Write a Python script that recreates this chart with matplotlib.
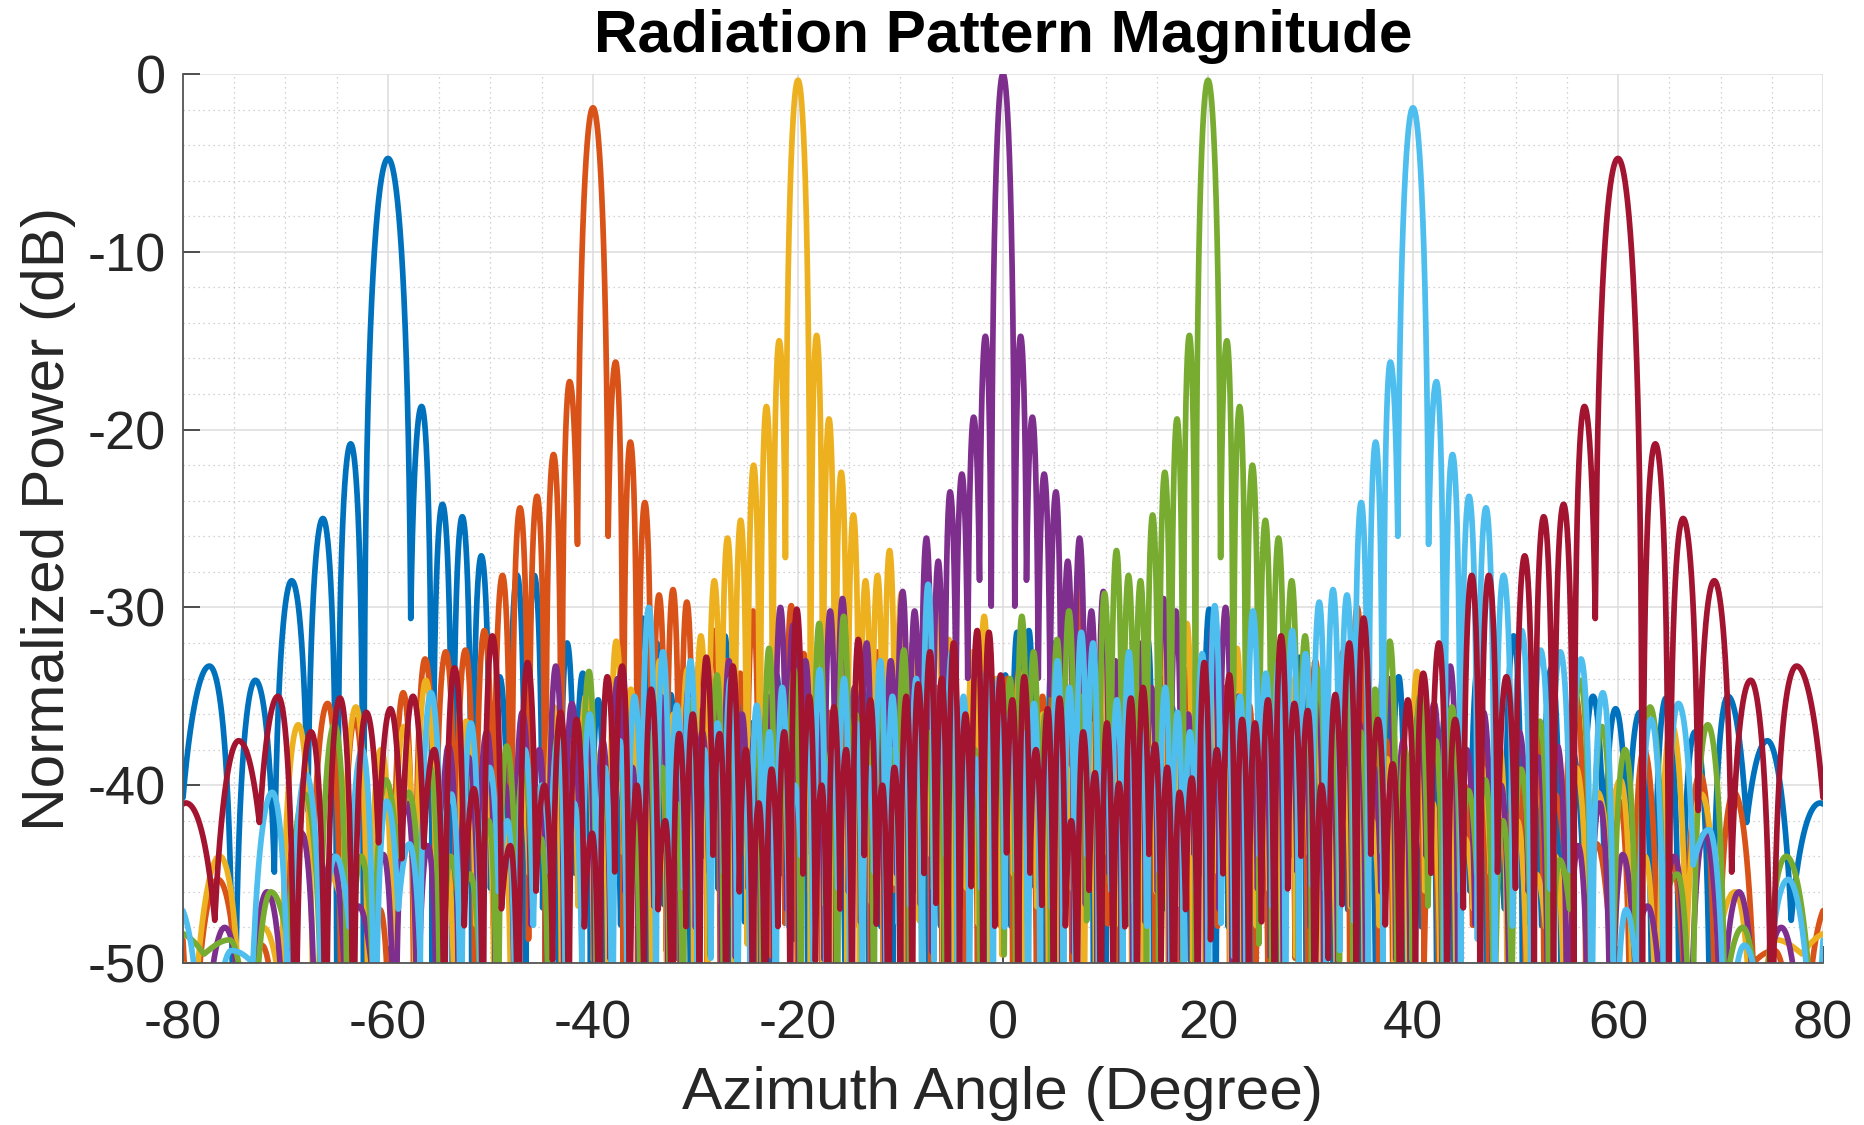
import numpy as np
import matplotlib
matplotlib.use("Agg")
import matplotlib.pyplot as plt
from matplotlib.ticker import MultipleLocator

# ---------------- data ----------------
X_TICKS = [-80, -60, -40, -20, 0, 20, 40, 60, 80]
Y_TICKS = [-50, -40, -30, -20, -10, 0]
DU = 0.02  # lobe spacing in sin(theta) space

# main-lobe peak level (dB) for the beams steered to 0, 20, 40, 60 degrees
STEER_DEG = [0, 20, 40, 60]
MAIN_DB = [0.0, -0.35, -1.9, -4.75]

# --- beam at 0 deg (symmetric) ---
PURPLE_PEAKS = [-14.75, -19.3, -22.5, -23.5, -27.4, -26.1, -30.2, -29.1, -33.0, -36.0,
                -32.0, -34.5, -29.5, -30.2, -36.0, -33.0, -31.0, -30.0, -35.0, -37.0,
                -36.0, -33.0, -35.5, -37.0, -34.5, -38.0, -35.0, -36.5, -39.0, -34.0,
                -37.5, -36.0, -35.4, -33.3, -38.0, -35.9, -40.0, -37.0, -38.4, -37.8,
                -43.4, -41.0, -43.9, -46.8, -44.0, -42.7, -46.0, -48.0, -52.0]
PURPLE_NULLS = [-30.4, -28.7, -34.0, -35.0, -60, -50, -47, -60, -45, -52,
                -65, -48, -46, -60, -50, -44, -65, -47, -52, -60,
                -46, -50, -65, -45, -48, -60, -52, -47, -65, -46,
                -50, -60, -44, -52, -65, -48, -50, -60, -46, -52,
                -65, -55, -60, -50, -52, -65, -55, -60, -65, -65]

# --- beam at 20 deg (mirror gives -20 deg) ---
GREEN_RIGHT_PEAKS = [-15.0, -18.7, -22.0, -25.1, -26.1, -28.5, -31.6, -33.5, -36.0, -33.0,
                     -37.0, -34.6, -31.9, -38.0, -35.0, -37.5, -35.6, -40.3, -39.7, -42.0,
                     -39.1, -36.4, -44.2, -34.1, -36.7, -38.0, -35.6, -45.0, -36.6, -48.0,
                     -44.0, -46.0]
GREEN_RIGHT_NULLS = [-27.6, -45, -60, -50, -65, -47, -55, -60, -46, -50,
                     -65, -48, -44, -60, -50, -47, -65, -46, -45, -60,
                     -52, -48, -65, -47, -52, -50, -60, -46.8, -62, -52,
                     -58, -55, -65]
GREEN_LEFT_PEAKS = [-14.7, -19.4, -22.4, -24.8, -28.5, -28.2, -26.8, -29.2, -33.0, -35.0,
                    -30.2, -31.8, -36.0, -32.5, -30.5, -34.0, -37.0, -33.7, -38.0, -36.0,
                    -35.9, -39.0, -37.0, -36.5, -32.4, -38.0, -34.5, -37.5, -36.0, -30.5,
                    -38.0, -30.9, -36.0, -33.5, -39.0, -32.3, -37.0, -40.0, -36.5, -33.8,
                    -38.0, -35.2, -41.0, -39.0, -37.0, -42.0, -38.5, -40.0, -33.6, -41.0,
                    -37.3, -43.0, -39.0, -37.8, -42.0, -45.0, -44.0, -39.0, -40.4, -39.7,
                    -44.0, -36.6, -40.5, -46.0, -48.7, -48.2]
GREEN_LEFT_NULLS = [-65, -60, -55, -50, -60, -47, -52, -46, -60, -48,
                    -44, -52, -65, -46, -48, -60, -50, -45, -65, -47,
                    -52, -60, -46, -50, -65, -44, -48, -60, -52, -46,
                    -65, -47, -50, -60, -45, -52, -65, -48, -46, -60,
                    -50, -44, -65, -52, -47, -60, -48, -50, -65, -46,
                    -52, -60, -47, -45, -65, -50, -48, -60, -46, -44,
                    -52, -65, -50, -49, -60, -49.5, -55]

# --- beam at 40 deg (mirror gives -40 deg) ---
CYAN_RIGHT_PEAKS = [-17.3, -21.4, -23.75, -24.4, -28.2, -31.3, -32.4, -32.5, -32.9, -34.8,
                    -47.0, -36.3, -35.4, -42.5, -49.0, -45.3, -40.0]
CYAN_RIGHT_NULLS = [-26.7, -55, -60, -50, -65, -48, -60, -46, -45, -60,
                    -62, -52, -58, -44.5, -60, -55, -62, -65]
CYAN_LEFT_PEAKS = [-16.2, -20.7, -24.1, -29.3, -29.0, -29.7, -32.6, -31.3, -33.0, -33.7,
                   -30.2, -35.0, -36.0, -29.9, -32.6, -37.0, -35.9, -34.5, -38.0, -37.0,
                   -32.5, -35.2, -38.0, -32.0, -31.4, -34.5, -33.0, -38.0, -35.4, -37.0,
                   -36.0, -34.0, -33.5, -38.5, -35.0, -32.5, -36.0, -28.7, -34.0, -37.5,
                   -35.0, -33.0, -39.0, -36.5, -34.0, -38.0, -33.5, -36.0, -40.0, -34.5,
                   -37.0, -35.5, -39.5, -34.0, -36.5, -38.0, -33.0, -35.5, -32.5, -30.0,
                   -35.0, -37.5, -39.0, -36.0, -41.0, -37.5, -40.0, -38.0, -42.0, -39.0,
                   -36.5, -40.5, -34.8, -43.3, -40.9, -38.0, -44.0, -39.4, -40.4, -49.3,
                   -46.5]
CYAN_LEFT_NULLS = [-26.0, -65, -55, -48, -50, -60, -46, -52, -65, -47,
                   -44, -60, -50, -48, -65, -46, -52, -60, -45, -48,
                   -65, -50, -46, -60, -44, -52, -65, -47, -50, -60,
                   -45, -48, -65, -46, -52, -60, -44, -50, -65, -47,
                   -48, -60, -45, -52, -65, -46, -50, -60, -44, -48,
                   -65, -47, -52, -60, -45, -50, -65, -46, -48, -60,
                   -44, -52, -65, -47, -50, -60, -45, -48, -65, -46,
                   -52, -60, -44, -50, -47, -65, -48, -52, -60, -50,
                   -65, -60]

# --- beam at 60 deg (mirror gives -60 deg) ---
RED_RIGHT_PEAKS = [-20.8, -25.0, -28.5, -34.1, -33.3]
RED_RIGHT_NULLS = [-65, -65, -41.6, -44.9, -65, -44]
RED_LEFT_PEAKS = [-18.7, -24.2, -24.9, -27.1, -33.9, -28.2, -28.2, -36.3, -32.0, -33.7,
                  -35.2, -38.8, -36.3, -30.6, -32.0, -34.9, -40.0, -35.8, -35.4, -31.6,
                  -35.2, -36.5, -36.3, -33.8, -38.0, -33.1, -39.6, -40.4, -39.0, -37.7,
                  -34.5, -35.1, -39.9, -36.5, -39.3, -37.0, -42.0, -35.1, -35.7, -38.0,
                  -33.9, -35.2, -33.8, -31.4, -31.3, -36.0, -32.0, -34.0, -32.5, -34.3,
                  -35.0, -39.0, -40.0, -35.2, -31.8, -38.0, -35.6, -40.0, -35.0, -30.1,
                  -37.0, -39.1, -41.0, -38.0, -33.3, -37.1, -32.8, -36.0, -37.1, -42.0,
                  -34.6, -40.0, -33.3, -33.9, -42.7, -36.3, -35.9, -40.0, -33.1, -43.4,
                  -31.6, -40.2, -33.4, -38.0, -35.0, -35.7, -35.9, -35.1, -37.0, -35.0,
                  -37.5, -41.0]
RED_LEFT_NULLS = [-30.7, -65, -52, -60, -46, -45, -62, -47, -60, -45,
                  -52, -65, -48, -44, -60, -47, -50, -65, -44, -46,
                  -60, -48, -52, -65, -45, -49, -60, -47, -65, -50,
                  -44, -60, -48, -52, -65, -46, -55, -48, -60, -47,
                  -45, -65, -44, -48, -60, -46, -52, -65, -47, -45,
                  -60, -50, -65, -48, -44, -60, -47, -65, -50, -45,
                  -62, -48, -60, -52, -46, -65, -44, -60, -48, -65,
                  -47, -52, -60, -45, -65, -48, -60, -50, -46, -65,
                  -47, -60, -48, -62, -43.5, -44.2, -43.3, -65, -65, -65,
                  -42.1, -47.6, -55]

COLORS = {"blue": "#0072BD", "orange": "#D95319", "yellow": "#EDB120",
          "purple": "#7E2F8E", "green": "#77AC30", "cyan": "#4DBEEE",
          "red": "#A2142F"}


def db2a(x):
    return 10.0 ** (np.asarray(x, dtype=float) / 20.0)


def beam_db(theta_deg, steer_deg, main_db, r_peaks, r_nulls, l_peaks, l_nulls):
    """Lobe-by-lobe pattern built from the read peak / null levels."""
    u = np.sin(np.radians(theta_deg))
    u0 = np.sin(np.radians(steer_deg))
    v = (u - u0) / DU
    out = np.empty_like(v)
    p0 = db2a(main_db)
    for side, peaks_db, nulls_db in ((1, r_peaks, r_nulls), (-1, l_peaks, l_nulls)):
        peaks = db2a(peaks_db)
        nulls = db2a(nulls_db)
        mask = v >= 0 if side > 0 else v < 0
        w = np.abs(v[mask])
        res = np.empty_like(w)
        m = w < 1
        n1 = nulls[0]
        res[m] = n1 + (p0 - n1) * np.sinc(w[m])
        k = np.clip(np.floor(w[~m]).astype(int), 1, len(peaks))
        t = w[~m] - k
        p = peaks[k - 1]
        n_in = nulls[k - 1]
        n_out = nulls[np.minimum(k, len(nulls) - 1)]
        n = np.where(t < 0.5, n_in, n_out)
        res[~m] = n + (p - n) * np.abs(np.sin(np.pi * t))
        out[mask] = res
    return 20 * np.log10(out)


theta = np.linspace(-80, 80, 16001)

purple = beam_db(theta, STEER_DEG[0], MAIN_DB[0], PURPLE_PEAKS, PURPLE_NULLS,
                 PURPLE_PEAKS, PURPLE_NULLS)
green_args = (STEER_DEG[1], MAIN_DB[1], GREEN_RIGHT_PEAKS, GREEN_RIGHT_NULLS,
              GREEN_LEFT_PEAKS, GREEN_LEFT_NULLS)
cyan_args = (STEER_DEG[2], MAIN_DB[2], CYAN_RIGHT_PEAKS, CYAN_RIGHT_NULLS,
             CYAN_LEFT_PEAKS, CYAN_LEFT_NULLS)
red_args = (STEER_DEG[3], MAIN_DB[3], RED_RIGHT_PEAKS, RED_RIGHT_NULLS,
            RED_LEFT_PEAKS, RED_LEFT_NULLS)

green = beam_db(theta, *green_args)
yellow = beam_db(-theta, *green_args)
cyan = beam_db(theta, *cyan_args)
orange = beam_db(-theta, *cyan_args)
red = beam_db(theta, *red_args)
blue = beam_db(-theta, *red_args)

series = [("blue", blue), ("orange", orange), ("yellow", yellow), ("purple", purple),
          ("green", green), ("cyan", cyan), ("red", red)]

# ---------------- figure ----------------
plt.rcParams["font.family"] = ["Liberation Sans", "DejaVu Sans"]
plt.rcParams["axes.unicode_minus"] = False
fig = plt.figure(figsize=(18.65, 11.25), dpi=100)
ax = fig.add_axes([183 / 1865, 1 - 963 / 1125, 1640 / 1865, 889 / 1125])

for name, y in series:
    ax.plot(theta, y, color=COLORS[name], lw=4.1, solid_joinstyle="round",
            solid_capstyle="round")

ax.set_xlim(-80, 80)
ax.set_ylim(-50, 0)
ax.set_xticks(X_TICKS)
ax.set_yticks(Y_TICKS)
ax.xaxis.set_minor_locator(MultipleLocator(5))
ax.yaxis.set_minor_locator(MultipleLocator(2))
ax.set_axisbelow(True)
ax.grid(True, which="major", color="#dcdcdc", lw=1.1)
ax.grid(True, which="minor", color="#c4c4c4", lw=0.9, ls=(0, (1, 3)))

for s in ("top", "right"):
    ax.spines[s].set_visible(False)
for s in ("left", "bottom"):
    ax.spines[s].set_color("#555555")
    ax.spines[s].set_linewidth(1.3)

ax.tick_params(which="major", direction="in", length=12, width=1.2, color="#333333",
               labelsize=39, labelcolor="#262626")
ax.tick_params(axis="x", pad=26)
ax.tick_params(axis="y", pad=12)
ax.tick_params(which="minor", length=0)

ax.set_xlabel("Azimuth Angle (Degree)", fontsize=43.5, color="#262626", labelpad=12)
ax.set_ylabel("Normalized Power (dB)", fontsize=43.5, color="#262626", labelpad=9)
ax.set_title("Radiation Pattern Magnitude", fontsize=43.5, fontweight="bold",
             color="black", pad=16)

fig.savefig("out.png", dpi=100)
